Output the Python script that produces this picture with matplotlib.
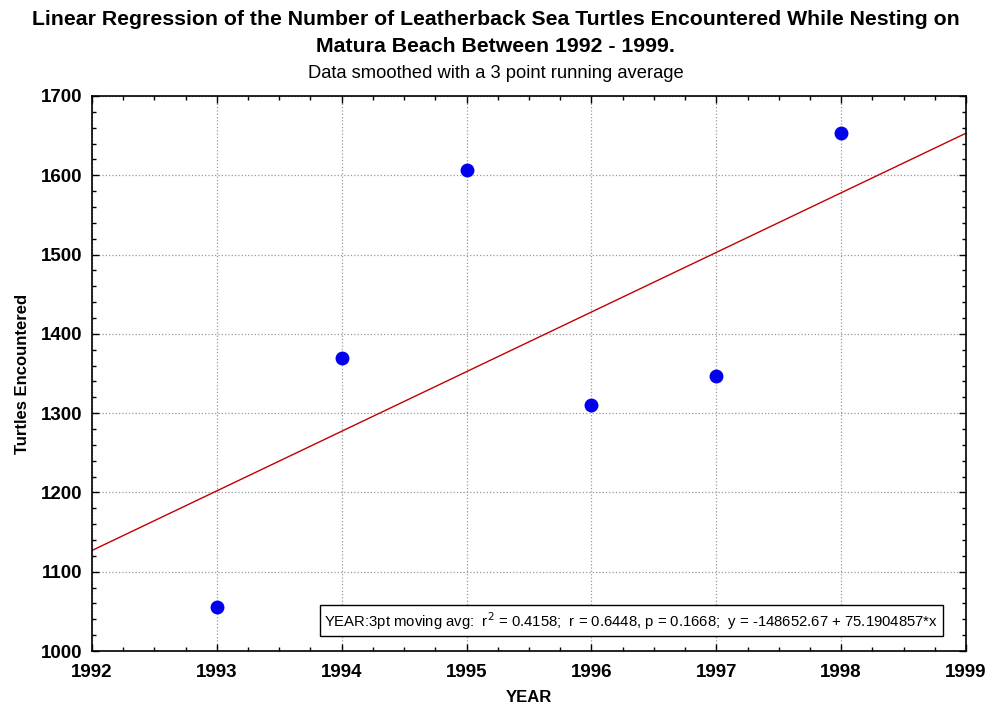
import matplotlib.pyplot as plt
from matplotlib.ticker import MultipleLocator
import numpy as np

plt.rcParams["font.family"] = ["Liberation Sans", "DejaVu Sans"]

years = [1993, 1994, 1995, 1996, 1997, 1998]
turtles = [1055, 1369, 1607, 1310, 1347, 1653]
intercept = -148652.67
slope = 75.1904857

fig = plt.figure(figsize=(9.91, 7.09), dpi=100)
ax = fig.add_axes([0.0928, 0.0818, 0.882, 0.7828])

xs = np.array([1992, 1999])
ax.plot(xs, intercept + slope * xs, color="#c00000", lw=1.0, zorder=2)
ax.plot(years, turtles, "o", color="#0000ee", markersize=9, zorder=3)

ax.set_xlim(1992, 1999)
ax.set_ylim(1000, 1700)
ax.xaxis.set_major_locator(MultipleLocator(1))
ax.xaxis.set_minor_locator(MultipleLocator(0.25))
ax.yaxis.set_major_locator(MultipleLocator(100))
ax.yaxis.set_minor_locator(MultipleLocator(20))
ax.tick_params(which="both", direction="in", top=True, right=True,
               labelsize=13.5, width=1)
ax.tick_params(axis="x", pad=9)
ax.tick_params(axis="y", pad=7)
ax.tick_params(which="major", length=5)
ax.tick_params(which="minor", length=3)
for lab in ax.get_xticklabels() + ax.get_yticklabels():
    lab.set_fontweight("bold")
ax.grid(True, which="major", ls=":", color="#999999", lw=0.9)
for s in ax.spines.values():
    s.set_linewidth(1.2)

ax.set_xlabel("YEAR", fontsize=12, fontweight="bold", labelpad=7)
ax.set_ylabel("Turtles Encountered", fontsize=12, fontweight="bold", labelpad=8)

fig.text(0.5, 0.972, "Linear Regression of the Number of Leatherback Sea Turtles Encountered While Nesting on",
         ha="center", va="center", fontsize=15.3, fontweight="bold")
fig.text(0.5, 0.935, "Matura Beach Between 1992 - 1999.",
         ha="center", va="center", fontsize=15.3, fontweight="bold")
fig.text(0.5, 0.896, "Data smoothed with a 3 point running average",
         ha="center", va="center", fontsize=13.2)

ax.text(0.968, 0.035,
        "YEAR:3pt moving avg:  r$^2$ = 0.4158;  r = 0.6448, p = 0.1668;  y = -148652.67 + 75.1904857*x",
        transform=ax.transAxes, ha="right", va="bottom", fontsize=10.7,
        bbox=dict(boxstyle="square,pad=0.3", fc="white", ec="black", lw=1))

fig.savefig("out.png", dpi=100)
